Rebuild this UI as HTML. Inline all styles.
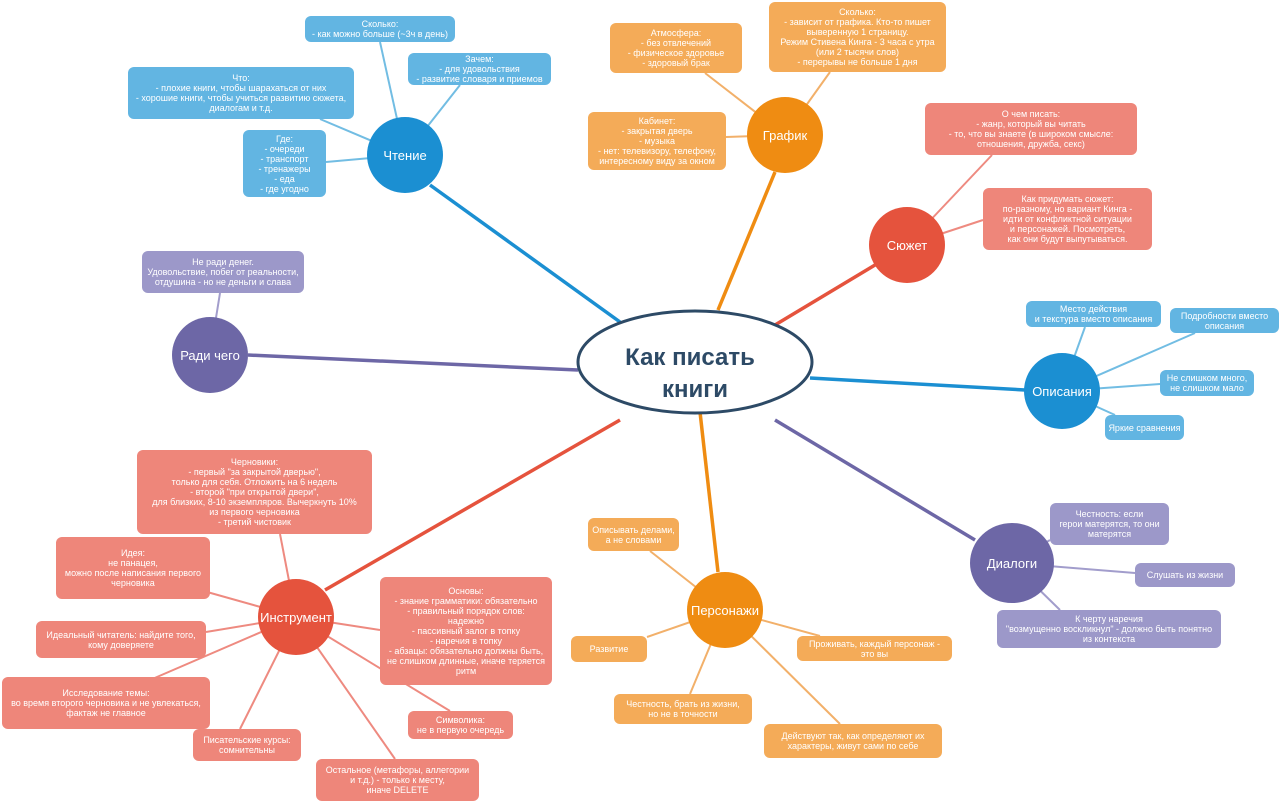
<!DOCTYPE html>
<html><head><meta charset="utf-8"><style>
body{margin:0;width:1280px;height:801px;background:#fff;position:relative;overflow:hidden;font-family:"Liberation Sans",sans-serif}
svg{position:absolute;left:0;top:0}
.b{position:absolute;border-radius:6px;color:#fff;font-size:9px;line-height:10px;text-align:center;display:flex;align-items:center;justify-content:center;box-sizing:border-box;padding:2px}
.bl{background:#62b5e2}.or{background:#f4ab58}.rd{background:#ee867a}.pu{background:#9c98c9}
.c{position:absolute;border-radius:50%;color:#fff;font-size:13px;display:flex;align-items:center;justify-content:center}
</style></head><body>
<svg width="1280" height="801">
<g stroke-width="2" fill="none">
<g stroke="#72bde3"><line x1="405" y1="155" x2="380" y2="42"/><line x1="405" y1="155" x2="460" y2="85"/><line x1="405" y1="155" x2="320" y2="119"/><line x1="405" y1="155" x2="326" y2="162"/>
<line x1="1062" y1="391" x2="1085" y2="327"/><line x1="1062" y1="391" x2="1195" y2="333"/><line x1="1062" y1="391" x2="1160" y2="384"/><line x1="1062" y1="391" x2="1115" y2="415"/></g>
<g stroke="#f2b06a"><line x1="785" y1="135" x2="705" y2="73"/><line x1="785" y1="135" x2="830" y2="72"/><line x1="785" y1="135" x2="726" y2="137"/>
<line x1="725" y1="610" x2="650" y2="551"/><line x1="725" y1="610" x2="647" y2="637"/><line x1="725" y1="610" x2="820" y2="636"/><line x1="725" y1="610" x2="690" y2="694"/><line x1="725" y1="610" x2="840" y2="724"/></g>
<g stroke="#ee8a80"><line x1="907" y1="245" x2="992" y2="155"/><line x1="907" y1="245" x2="983" y2="220"/>
<line x1="296" y1="617" x2="280" y2="534"/><line x1="296" y1="617" x2="200" y2="590"/><line x1="296" y1="617" x2="206" y2="632"/><line x1="296" y1="617" x2="150" y2="680"/><line x1="296" y1="617" x2="240" y2="729"/><line x1="296" y1="617" x2="380" y2="630"/><line x1="296" y1="617" x2="450" y2="711"/><line x1="296" y1="617" x2="395" y2="759"/></g>
<g stroke="#a29dcc"><line x1="1012" y1="563" x2="1050" y2="540"/><line x1="1012" y1="563" x2="1135" y2="573"/><line x1="1012" y1="563" x2="1060" y2="610"/><line x1="210" y1="355" x2="220" y2="293"/></g>
</g>
<g stroke-width="3.5">
<line x1="620" y1="322" x2="430" y2="185" stroke="#1b8fd2"/>
<line x1="718" y1="310" x2="775" y2="172" stroke="#ef8c12"/>
<line x1="775" y1="325" x2="875" y2="265" stroke="#e5533d"/>
<line x1="810" y1="378" x2="1025" y2="390" stroke="#1b8fd2"/>
<line x1="775" y1="420" x2="975" y2="540" stroke="#6d67a6"/>
<line x1="700" y1="412" x2="718" y2="572" stroke="#ef8c12"/>
<line x1="620" y1="420" x2="325" y2="590" stroke="#e5533d"/>
<line x1="578" y1="370" x2="248" y2="355" stroke="#6d67a6"/>
</g>
<ellipse cx="695" cy="362" rx="117" ry="51" fill="#fff" stroke="#2d4a66" stroke-width="3"/>
<text text-anchor="middle" font-family="Liberation Sans" font-weight="bold" font-size="24" fill="#2d4a66"><tspan x="690" y="365">Как писать</tspan><tspan x="695" y="397">книги</tspan></text>
</svg>
<div class="c" style="left:367px;top:117px;width:76px;height:76px;background:#1b8fd2">Чтение</div>
<div class="c" style="left:747px;top:97px;width:76px;height:76px;background:#ef8c12">График</div>
<div class="c" style="left:869px;top:207px;width:76px;height:76px;background:#e5533d">Сюжет</div>
<div class="c" style="left:1024px;top:353px;width:76px;height:76px;background:#1b8fd2">Описания</div>
<div class="c" style="left:970px;top:523px;width:84px;height:80px;background:#6d67a6">Диалоги</div>
<div class="c" style="left:687px;top:572px;width:76px;height:76px;background:#ef8c12">Персонажи</div>
<div class="c" style="left:258px;top:579px;width:76px;height:76px;background:#e5533d">Инструмент</div>
<div class="c" style="left:172px;top:317px;width:76px;height:76px;background:#6d67a6">Ради чего</div>

<div class="b bl" style="left:305px;top:16px;width:150px;height:26px">Сколько:<br>- как можно больше (~3ч в день)</div>
<div class="b bl" style="left:408px;top:53px;width:143px;height:32px">Зачем:<br>- для удовольствия<br>- развитие словаря и приемов</div>
<div class="b bl" style="left:128px;top:67px;width:226px;height:52px">Что:<br>- плохие книги, чтобы шарахаться от них<br>- хорошие книги, чтобы учиться развитию сюжета,<br>диалогам и т.д.</div>
<div class="b bl" style="left:243px;top:130px;width:83px;height:67px">Где:<br>- очереди<br>- транспорт<br>- тренажеры<br>- еда<br>- где угодно</div>
<div class="b or" style="left:610px;top:23px;width:132px;height:50px">Атмосфера:<br>- без отвлечений<br>- физическое здоровье<br>- здоровый брак</div>
<div class="b or" style="left:769px;top:2px;width:177px;height:70px">Сколько:<br>- зависит от графика. Кто-то пишет<br>выверенную 1 страницу.<br>Режим Стивена Кинга - 3 часа с утра<br>(или 2 тысячи слов)<br>- перерывы не больше 1 дня</div>
<div class="b or" style="left:588px;top:112px;width:138px;height:58px">Кабинет:<br>- закрытая дверь<br>- музыка<br>- нет: телевизору, телефону,<br>интересному виду за окном</div>
<div class="b rd" style="left:925px;top:103px;width:212px;height:52px">О чем писать:<br>- жанр, который вы читать<br>- то, что вы знаете (в широком смысле:<br>отношения, дружба, секс)</div>
<div class="b rd" style="left:983px;top:188px;width:169px;height:62px">Как придумать сюжет:<br>по-разному, но вариант Кинга -<br>идти от конфликтной ситуации<br>и персонажей. Посмотреть,<br>как они будут выпутываться.</div>
<div class="b bl" style="left:1026px;top:301px;width:135px;height:26px">Место действия<br>и текстура вместо описания</div>
<div class="b bl" style="left:1170px;top:308px;width:109px;height:25px">Подробности вместо<br>описания</div>
<div class="b bl" style="left:1160px;top:370px;width:94px;height:26px">Не слишком много,<br>не слишком мало</div>
<div class="b bl" style="left:1105px;top:415px;width:79px;height:25px">Яркие сравнения</div>
<div class="b pu" style="left:142px;top:251px;width:162px;height:42px">Не ради денег.<br>Удовольствие, побег от реальности,<br>отдушина - но не деньги и слава</div>
<div class="b pu" style="left:1050px;top:503px;width:119px;height:42px">Честность: если<br>герои матерятся, то они<br>матерятся</div>
<div class="b pu" style="left:1135px;top:563px;width:100px;height:24px">Слушать из жизни</div>
<div class="b pu" style="left:997px;top:610px;width:224px;height:38px">К черту наречия<br>"возмущенно воскликнул" - должно быть понятно<br>из контекста</div>
<div class="b or" style="left:588px;top:518px;width:91px;height:33px">Описывать делами,<br>а не словами</div>
<div class="b or" style="left:571px;top:636px;width:76px;height:26px">Развитие</div>
<div class="b or" style="left:797px;top:636px;width:155px;height:25px">Проживать, каждый персонаж -<br>это вы</div>
<div class="b or" style="left:614px;top:694px;width:138px;height:30px">Честность, брать из жизни,<br>но не в точности</div>
<div class="b or" style="left:764px;top:724px;width:178px;height:34px">Действуют так, как определяют их<br>характеры, живут сами по себе</div>
<div class="b rd" style="left:137px;top:450px;width:235px;height:84px">Черновики:<br>- первый "за закрытой дверью",<br>только для себя. Отложить на 6 недель<br>- второй "при открытой двери",<br>для близких, 8-10 экземпляров. Вычеркнуть 10%<br>из первого черновика<br>- третий чистовик</div>
<div class="b rd" style="left:56px;top:537px;width:154px;height:62px">Идея:<br>не панацея,<br>можно после написания первого<br>черновика</div>
<div class="b rd" style="left:36px;top:621px;width:170px;height:37px">Идеальный читатель: найдите того,<br>кому доверяете</div>
<div class="b rd" style="left:2px;top:677px;width:208px;height:52px">Исследование темы:<br>во время второго черновика и не увлекаться,<br>фактаж не главное</div>
<div class="b rd" style="left:193px;top:729px;width:108px;height:32px">Писательские курсы:<br>сомнительны</div>
<div class="b rd" style="left:380px;top:577px;width:172px;height:108px">Основы:<br>- знание грамматики: обязательно<br>- правильный порядок слов:<br>надежно<br>- пассивный залог в топку<br>- наречия в топку<br>- абзацы: обязательно должны быть,<br>не слишком длинные, иначе теряется<br>ритм</div>
<div class="b rd" style="left:408px;top:711px;width:105px;height:28px">Символика:<br>не в первую очередь</div>
<div class="b rd" style="left:316px;top:759px;width:163px;height:42px">Остальное (метафоры, аллегории<br>и т.д.) - только к месту,<br>иначе DELETE</div>
</body></html>
